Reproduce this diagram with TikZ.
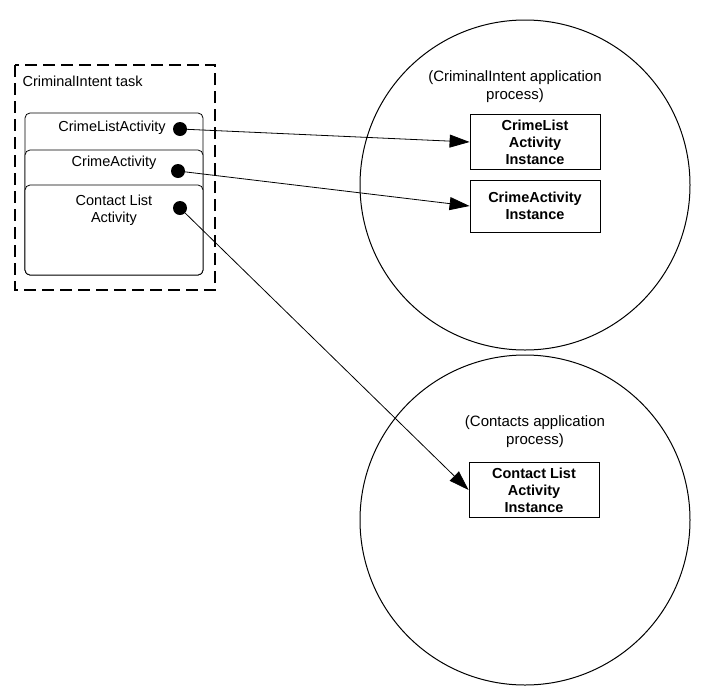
\documentclass[tikz,border=0pt]{standalone}
\usepackage{fontspec}
\setmainfont{Liberation Sans}
\usetikzlibrary{arrows.meta}
\begin{document}
\begin{tikzpicture}[x=1pt,y=-1pt,
  card/.style={draw,fill=white,rounded corners=5pt,line width=0.8pt},
  dot/.style={circle,fill=black,inner sep=0pt,minimum size=14pt},
  inst/.style={draw,line width=0.8pt,minimum width=130pt,align=center,font=\bfseries\fontsize{14.5}{17}\selectfont,inner sep=2pt},
  lbl/.style={font=\fontsize{14.5}{17}\selectfont,align=center},
  arr/.style={-{Triangle[length=20pt,width=13pt]},line width=0.8pt}]
\useasboundingbox (0,0) rectangle (707,694);
\draw[dashed,dash pattern=on 12pt off 6pt,line width=1.5pt] (15,65) rectangle (215,290);
\node[lbl,anchor=west] (task) at (19,81) {CriminalIntent task};
\draw[card] (25,113) rectangle (203,275);
\draw[card] (25,150) rectangle (203,275);
\draw[card] (25,185) rectangle (203,275);
\node[lbl] (l1) at (112,128) {CrimeListActivity};
\node[lbl] (l2) at (114,163) {CrimeActivity};
\node[lbl] (l3) at (114,210) {Contact List\\Activity};
\node[dot] (d1) at (180,129) {};
\node[dot] (d2) at (178,171) {};
\node[dot] (d3) at (180,208) {};
\node[draw,circle,minimum size=330pt,line width=1pt] (c1) at (525,185) {};
\node[draw,circle,minimum size=330pt,line width=1pt] (c2) at (525,520) {};
\node[lbl,font=\fontsize{15}{18}\selectfont] (p1) at (515,87) {(CriminalIntent application\\process)};
\node[lbl,font=\fontsize{15}{18}\selectfont] (p2) at (535,432) {(Contacts application\\process)};
\node[inst,minimum height=55pt] (b1) at (535,142) {CrimeList\\Activity\\Instance};
\node[inst,minimum height=52pt] (b2) at (535,206) {CrimeActivity\\Instance};
\node[inst,minimum height=55pt] (b3) at (534,490) {Contact List\\Activity\\Instance};
\draw[arr] (d1) -- (b1.west);
\draw[arr] (d2) -- (b2.west);
\draw[arr] (d3) -- (b3.west);
\end{tikzpicture}
\end{document}
